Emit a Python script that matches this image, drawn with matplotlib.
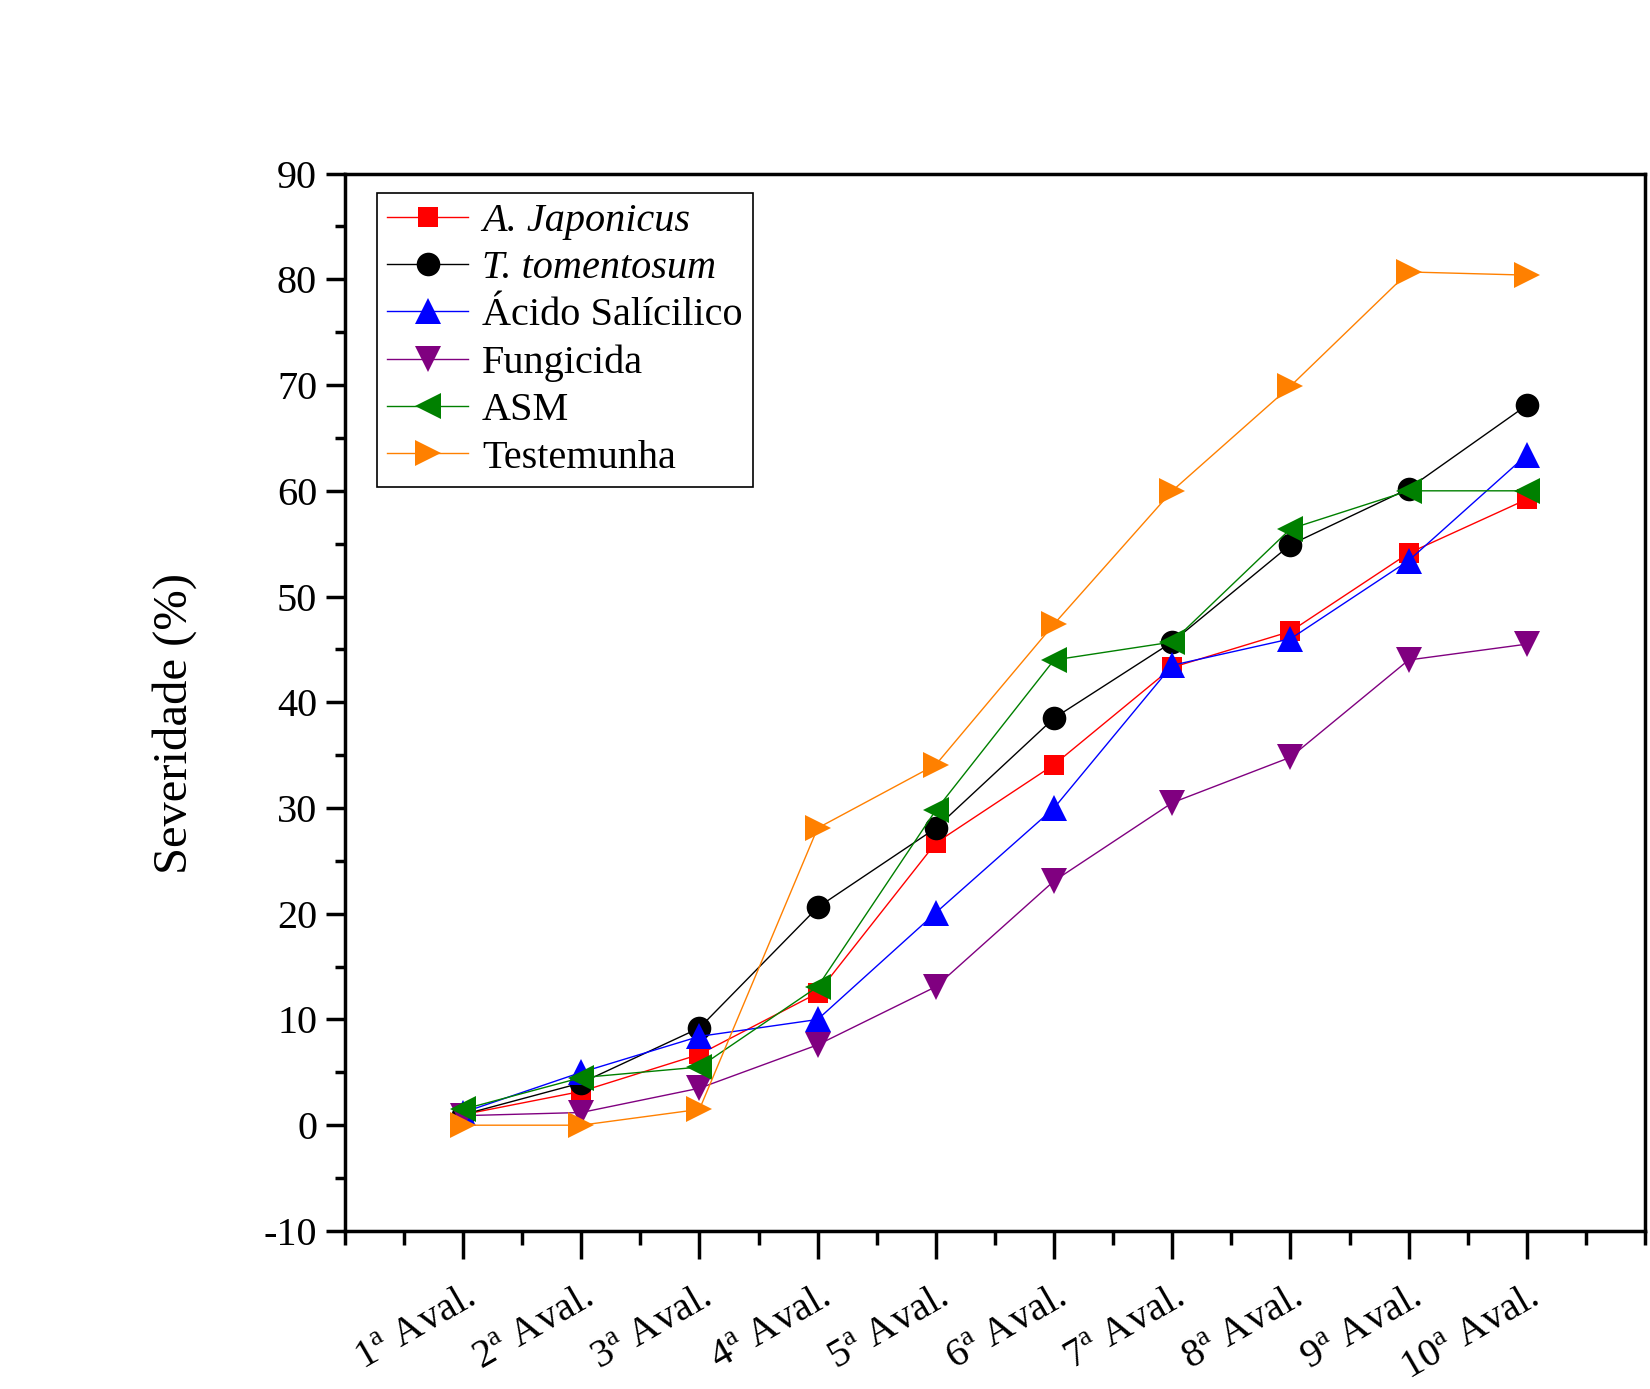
import matplotlib
matplotlib.use("Agg")
import matplotlib.pyplot as plt
from matplotlib.ticker import MultipleLocator

plt.rcParams['font.family'] = ['Liberation Serif', 'DejaVu Serif']
plt.rcParams['mathtext.fontset'] = 'custom'
plt.rcParams['mathtext.rm'] = 'Liberation Serif'
plt.rcParams['mathtext.it'] = 'Liberation Serif:italic'
plt.rcParams['axes.unicode_minus'] = False

evaluations = list(range(1, 11))
tick_labels = [r'%d$^{\mathrm{a}}$ Aval.' % i for i in evaluations]

japonicus = [1.0, 3.2, 6.7, 12.5, 26.7, 34.1, 43.3, 46.7, 54.1, 59.2]
tomentosum = [1.0, 4.0, 9.2, 20.6, 28.1, 38.5, 45.7, 54.9, 60.2, 68.1]
salicilico = [1.2, 5.0, 8.4, 10.0, 20.1, 30.0, 43.5, 46.0, 53.4, 63.4]
fungicida = [0.9, 1.2, 3.5, 7.6, 13.1, 23.1, 30.5, 34.8, 44.0, 45.5]
asm = [1.5, 4.5, 5.5, 13.1, 29.8, 44.0, 45.7, 56.4, 60.0, 60.0]
testemunha = [0.0, 0.0, 1.5, 28.1, 34.1, 47.4, 60.0, 69.9, 80.7, 80.4]

series = [
    (japonicus, 'A. Japonicus', 'red', 's', 15, True),
    (tomentosum, 'T. tomentosum', 'black', 'o', 17, True),
    (salicilico, 'Ácido Salícilico', 'blue', '^', 19, False),
    (fungicida, 'Fungicida', 'purple', 'v', 19, False),
    (asm, 'ASM', 'green', '<', 19, False),
    (testemunha, 'Testemunha', '#ff8000', '>', 19, False),
]

fig = plt.figure(figsize=(16.5, 13.89), dpi=100)
ax = fig.add_axes([0.209, 0.1138, 0.788, 0.7612])

for vals, label, color, marker, ms, ital in series:
    ax.plot(evaluations, vals, color=color, marker=marker, markersize=ms,
            linewidth=1.0, markeredgewidth=0, label=label)

ax.set_xlim(0, 11)
ax.set_ylim(-10, 90)
ax.set_xticks(evaluations)
ax.set_xticklabels(tick_labels, rotation=30, ha='right', rotation_mode='anchor',
                   fontsize=29)
ax.xaxis.set_minor_locator(MultipleLocator(0.5))
ax.yaxis.set_major_locator(MultipleLocator(10))
ax.yaxis.set_minor_locator(MultipleLocator(5))
ax.tick_params(axis='both', which='major', direction='out', length=14, width=2.5,
               labelsize=29, top=False, right=False)
ax.tick_params(axis='both', which='minor', direction='out', length=7, width=2.5,
               top=False, right=False)
ax.tick_params(axis='y', which='major', pad=6)
ax.tick_params(axis='x', which='major', length=20, pad=15)
ax.tick_params(axis='x', which='minor', length=10)
for sp in ax.spines.values():
    sp.set_linewidth(2.5)

ax.set_ylabel('Severidade (%)', fontsize=35)
ax.yaxis.set_label_coords(-0.114, 0.48)

leg = ax.legend(loc='upper left', bbox_to_anchor=(0.025, 0.982), fontsize=29,
                frameon=True, fancybox=False, edgecolor='black', framealpha=1,
                handlelength=2.0, handletextpad=0.35, borderpad=0.25,
                labelspacing=0.25, borderaxespad=0)
leg.get_frame().set_linewidth(1.2)
for t, s in zip(leg.get_texts(), series):
    if s[5]:
        t.set_fontstyle('italic')

fig.savefig('out.png', dpi=100)
